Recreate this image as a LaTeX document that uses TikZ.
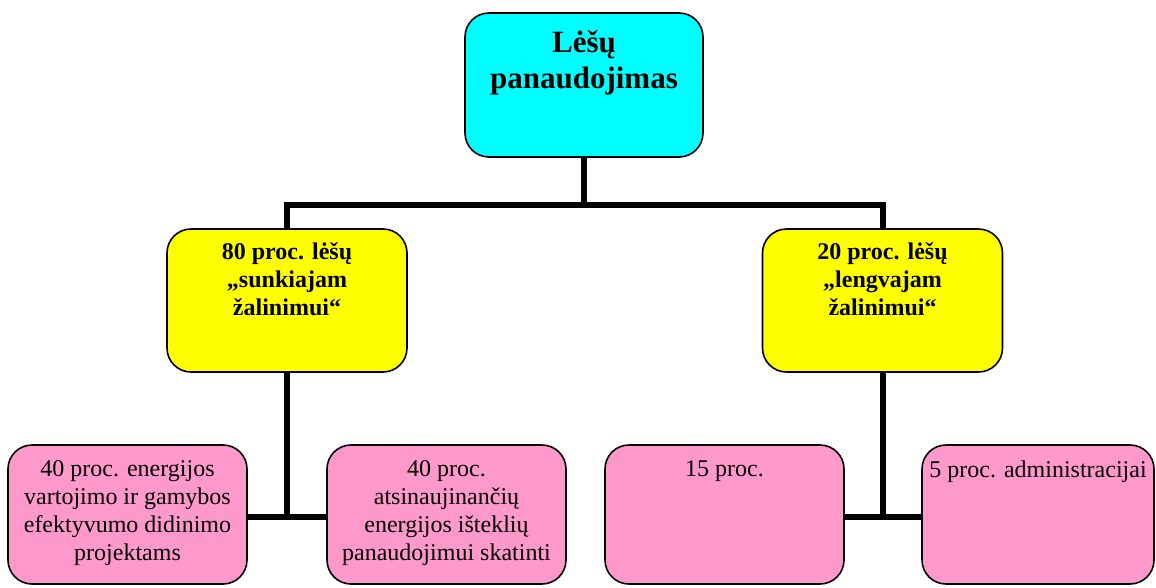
\documentclass[tikz,border=0pt]{standalone}
\usepackage{fontspec}
\setmainfont{Liberation Serif}
\usetikzlibrary{backgrounds}
\definecolor{boxcyan}{HTML}{00FFFF}
\definecolor{boxyellow}{HTML}{FFFF00}
\definecolor{boxpink}{HTML}{FF99CC}
\begin{document}
\begin{tikzpicture}[x=1pt,y=-1pt,
  box/.style={draw=black, line width=1.6pt, rounded corners=24pt,
    inner sep=0pt, outer sep=0pt},
  topbox/.style={box, fill=boxcyan, minimum width=238pt, minimum height=144pt},
  midbox/.style={box, fill=boxyellow, minimum width=240pt, minimum height=143pt},
  lowbox/.style={box, fill=boxpink, minimum width=239pt, minimum height=139pt},
  toptext/.style={anchor=north, align=center, inner sep=0pt,
    font=\fontsize{31}{36}\selectfont\bfseries},
  midtext/.style={anchor=north, align=center, inner sep=0pt,
    font=\fontsize{24}{28}\selectfont\bfseries},
  lowtext/.style={anchor=north, align=center, inner sep=0pt,
    font=\fontsize{24}{28}\selectfont},
  conn/.style={draw=black, line width=6pt}
]
\useasboundingbox (0,0) rectangle (1156,587);

% boxes
\node[topbox] (top) at (584,85) {};
\node[midbox] (left) at (287,300.5) {};
\node[midbox] (right) at (882.5,300.5) {};
\node[lowbox] (p1) at (127.5,514.5) {};
\node[lowbox] (p2) at (446.5,514.5) {};
\node[lowbox] (p3) at (724.5,514.5) {};
\node[lowbox, minimum width=232pt] (p4) at (1038,514.5) {};

% connectors, kept behind the boxes
\begin{pgfonlayer}{background}
\draw[conn] (top.south) -- ++(0,48) coordinate (j1);
\draw[conn] (left.north) |- (j1) -| (right.north);
\draw[conn] (left.south) -- ++(0,145) coordinate (j2);
\draw[conn] (p1.east |- j2) -- (p2.west |- j2);
\draw[conn] (right.south) -- ++(0,145) coordinate (j3);
\draw[conn] (p3.east |- j3) -- (p4.west |- j3);
\end{pgfonlayer}

% texts
\node[toptext] (topT) at (584,30) {Lėšų\\panaudojimas};
\node[midtext] (leftT) at (287,242) {80 proc. lėšų\\„sunkiajam\\žalinimui“};
\node[midtext] (rightT) at (882.5,242) {20 proc. lėšų\\„lengvajam\\žalinimui“};
\node[lowtext] (p1T) at (127.5,460.6) {40 proc. energijos\\vartojimo ir gamybos\\efektyvumo didinimo\\projektams};
\node[lowtext] (p2T) at (446.5,460.6) {40 proc.\\atsinaujinančių\\energijos išteklių\\panaudojimui skatinti};
\node[lowtext] (p3T) at (724.5,460.8) {15 proc.};
\node[lowtext] (p4T) at (1038,460.6) {5 proc. administracijai};
\end{tikzpicture}
\end{document}
